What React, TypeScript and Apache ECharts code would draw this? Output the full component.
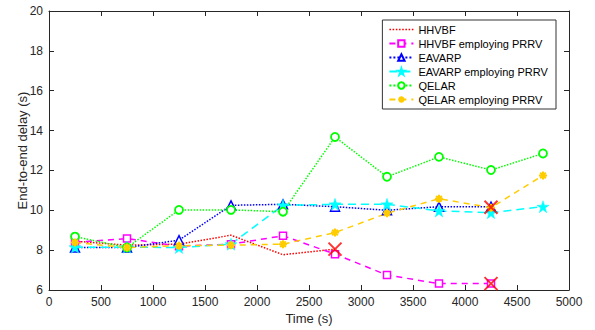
import React, { useEffect, useRef } from "react";
import * as echarts from "echarts";

const times = [250, 750, 1250, 1750, 2250, 2750, 3250, 3750, 4250, 4750];
const hhvbf = [8.45, 8.25, 8.3, 8.75, 7.77, 8.05];
const hhvbfPrrv = [8.4, 8.58, 8.2, 8.3, 8.72, 7.8, 6.75, 6.32, 6.32];
const eavarp = [8.13, 8.13, 8.5, 10.25, 10.3, 10.18, 10.0, 10.18, 10.18];
const eavarpPrrv = [8.15, 8.15, 8.13, 8.3, 10.25, 10.3, 10.3, 9.97, 9.88, 10.18];
const qelar = [8.68, 8.13, 10.02, 10.02, 9.93, 13.68, 11.68, 12.68, 12.02, 12.85];
const qelarPrrv = [8.38, 8.13, 8.22, 8.25, 8.3, 8.88, 9.85, 10.58, 10.13, 11.75];
const failPoints: [number, number][] = [[2750, 8.05], [4250, 6.32], [4250, 10.15]];
const xTicks = { min: 0, max: 5000, interval: 500 };
const yTicks = { min: 6, max: 20, interval: 2 };

const pair = (vals: number[]) => vals.map((v, i) => [times[i], v]);

const FONT = "Liberation Sans";
const TXT = "#262626";

const asterisk = "path://M5,0L5,10M0,5L10,5M1.5,1.5L8.5,8.5M8.5,1.5L1.5,8.5";
const cross = "path://M0,0L10,10M10,0L0,10";

function dottedIcon(): string {
  let d = "";
  for (let i = 0; i < 8; i++) {
    const x = i * 3;
    d += `M${x},0L${x + 1.5},0L${x + 1.5},1.5L${x},1.5Z`;
  }
  return "path://" + d;
}

export default function App() {
  const ref = useRef<HTMLDivElement>(null);
  useEffect(() => {
    if (!ref.current) return;
    const chart = echarts.init(ref.current, null, { renderer: "svg" });
    const axisCommon = {
      axisLine: { show: true, onZero: false, lineStyle: { color: TXT, width: 1 } },
      axisTick: { show: true, inside: true, length: 5, lineStyle: { color: TXT } },
      splitLine: { show: false },
    };
    chart.setOption({
      animation: false,
      backgroundColor: "#fff",
      grid: { left: 49, right: 26, top: 11, bottom: 39 },
      xAxis: [
        {
          type: "value",
          ...xTicks,
          ...axisCommon,
          axisLabel: { color: TXT, fontFamily: FONT, fontSize: 12, margin: 6, formatter: (v: number) => String(v) },
          name: "Time (s)",
          nameLocation: "middle",
          nameGap: 22,
          nameMoveOverlap: false,
          nameTextStyle: { color: TXT, fontFamily: FONT, fontSize: 13 },
        },
        {
          type: "value",
          position: "top",
          ...xTicks,
          ...axisCommon,
          axisLabel: { show: false },
        },
      ],
      yAxis: [
        {
          type: "value",
          ...yTicks,
          ...axisCommon,
          axisLabel: { color: TXT, fontFamily: FONT, fontSize: 12, margin: 6 },
          name: "End-to-end delay (s)",
          nameLocation: "middle",
          nameGap: 20,
          nameMoveOverlap: false,
          nameTextStyle: { color: TXT, fontFamily: FONT, fontSize: 13 },
        },
        {
          type: "value",
          position: "right",
          ...yTicks,
          ...axisCommon,
          axisLabel: { show: false },
        },
      ],
      legend: {
        right: 39,
        top: 20,
        orient: "vertical",
        backgroundColor: "#fff",
        borderColor: "#333",
        borderWidth: 1,
        borderRadius: 0,
        padding: [3, 8, 3, 6],
        itemWidth: 24,
        itemHeight: 8,
        itemGap: 1,
        symbolKeepAspect: true,
        textStyle: { color: "#000", fontFamily: FONT, fontSize: 11, lineHeight: 13 },
        data: [
          {
            name: "HHVBF",
            icon: dottedIcon(),
            itemStyle: { color: "#ff0000", borderWidth: 0 },
          },
          "HHVBF employing PRRV",
          "EAVARP",
          "EAVARP employing PRRV",
          "QELAR",
          "QELAR employing PRRV",
        ],
      },
      series: [
        {
          name: "HHVBF",
          type: "line",
          data: pair(hhvbf),
          symbol: "none",
          lineStyle: { color: "#ff0000", width: 1.5, type: "dotted" },
          itemStyle: { color: "#ff0000" },
        },
        {
          name: "HHVBF employing PRRV",
          type: "line",
          data: pair(hhvbfPrrv),
          symbol: "rect",
          symbolSize: 7,
          lineStyle: { color: "#ff00ff", width: 1.5, type: [6, 5] },
          itemStyle: { color: "#fff", borderColor: "#ff00ff", borderWidth: 1.5 },
        },
        {
          name: "EAVARP",
          type: "line",
          data: pair(eavarp),
          symbol: "triangle",
          symbolSize: 9,
          lineStyle: { color: "#0000ff", width: 1.5, type: "dotted" },
          itemStyle: { color: "#fff", borderColor: "#0000ff", borderWidth: 1.5 },
        },
        {
          name: "EAVARP employing PRRV",
          type: "line",
          data: pair(eavarpPrrv),
          symbol: "path://M50,0L61.8,35.3L100,36.3L69.1,58.4L80.9,95.1L50,72.7L19.1,95.1L30.9,58.4L0,36.3L38.2,35.3Z",
          symbolSize: 12,
          lineStyle: { color: "#00ffff", width: 1.5, type: [8, 5] },
          itemStyle: { color: "#00ffff", borderColor: "#00ffff", borderWidth: 0.5 },
        },
        {
          name: "QELAR",
          type: "line",
          data: pair(qelar),
          symbol: "circle",
          symbolSize: 8,
          lineStyle: { color: "#00ff00", width: 1.5, type: "dotted" },
          itemStyle: { color: "#fff", borderColor: "#00ff00", borderWidth: 1.8 },
        },
        {
          name: "QELAR employing PRRV",
          type: "line",
          data: pair(qelarPrrv),
          symbol: asterisk,
          symbolSize: 8,
          lineStyle: { color: "#ffcc00", width: 1.5, type: [6, 5] },
          itemStyle: { color: "#ffcc00", borderColor: "#ffcc00", borderWidth: 2 },
        },
        {
          name: "failure",
          type: "scatter",
          data: failPoints,
          symbol: cross,
          symbolSize: 13,
          itemStyle: { color: "none", borderColor: "#ff0000", borderWidth: 2 },
          z: 5,
        },
      ],
    });
    return () => chart.dispose();
  }, []);
  return <div ref={ref} style={{ width: 595, height: 330, position: "absolute", left: 0, top: 0 }} />;
}
